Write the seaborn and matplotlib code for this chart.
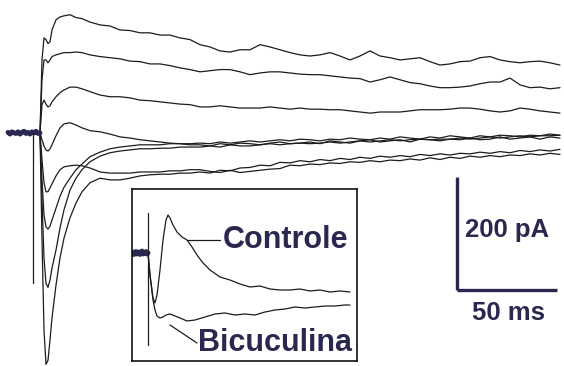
import numpy as np
import pandas as pd
import matplotlib
matplotlib.use("Agg")
import matplotlib.pyplot as plt
import seaborn as sns

sns.set_style("white")
plt.rcParams['font.family'] = ['Liberation Sans', 'DejaVu Sans']

# ---------------- data (main recording) ----------------
TIME_MS = [0, 1, 2, 3, 4, 5, 6, 8, 10, 12, 15, 18, 21, 25, 30, 35, 40, 45, 50, 55, 60, 65, 70, 75,
           80, 85, 90, 95, 100, 105, 110, 115, 120, 125, 130, 135, 140, 145, 150, 155, 160, 165,
           170, 175, 180, 185, 190, 195, 200, 205, 210, 215, 220, 225, 230, 235, 240, 245, 250, 255, 260]

trace_1 = [0, 129, 168, 165, 158, 161, 182, 200, 205, 207, 209, 204, 202, 196, 191, 189, 182, 181, 177, 177, 173, 173, 168, 165,
           156, 152, 145, 143, 147, 147, 156, 152, 147, 142, 138, 136, 138, 142, 136, 129, 136, 145, 136, 133, 129, 131, 133,
           126, 120, 122, 126, 127, 133, 135, 129, 126, 124, 126, 127, 124, 120]
trace_2 = [0, 94, 129, 129, 124, 129, 135, 138, 140, 142, 142, 143, 142, 138, 135, 133, 131, 127, 126, 122, 122, 119, 115, 112,
           108, 110, 112, 112, 108, 103, 106, 108, 108, 106, 104, 103, 103, 101, 99, 97, 96, 90, 94, 99, 94, 89, 87,
           83, 80, 80, 81, 83, 87, 90, 90, 97, 85, 80, 81, 78, 80]
trace_3 = [0, 50, 58, 51, 46, 48, 55, 64, 71, 76, 81, 81, 78, 73, 67, 64, 64, 62, 58, 57, 55, 53, 51, 50,
           46, 46, 48, 46, 44, 44, 44, 46, 44, 42, 44, 42, 42, 41, 41, 39, 37, 35, 37, 37, 37, 39, 41,
           41, 41, 42, 44, 44, 42, 39, 37, 39, 44, 42, 39, 37, 35]
trace_4 = [0, -12, -23, -30, -32, -28, -21, -5, 9, 16, 18, 14, 9, 4, 2, -2, -7, -9, -12, -14, -16, -18, -19, -21,
           -21, -23, -19, -21, -18, -19, -21, -18, -16, -19, -18, -16, -19, -14, -16, -18, -14, -12, -16, -14, -12, -16, -11,
           -12, -14, -11, -12, -9, -12, -11, -7, -11, -9, -7, -11, -7, -9]
trace_5 = [0, -48, -88, -104, -104, -97, -90, -76, -65, -60, -58, -57, -58, -62, -69, -71, -71, -71, -69, -69, -69, -67, -67, -65,
           -65, -68, -70, -66, -70, -68, -66, -64, -63, -57, -58, -55, -56, -53, -54, -51, -52, -49, -51, -48, -49, -46, -48,
           -44, -47, -43, -45, -41, -43, -40, -42, -39, -40, -37, -39, -36, -38]
trace_6 = [0, -83, -145, -166, -170, -165, -154, -133, -112, -96, -80, -65, -55, -42, -34, -28, -25, -23, -21, -21, -21, -19, -19, -19,
           -18, -19, -16, -18, -16, -14, -16, -14, -12, -14, -11, -12, -14, -11, -12, -9, -11, -12, -9, -11, -7, -9, -11,
           -7, -9, -5, -7, -9, -5, -7, -4, -5, -7, -4, -5, -2, -4]
trace_7 = [0, -119, -221, -266, -273, -260, -239, -207, -168, -136, -101, -80, -65, -51, -41, -35, -32, -30, -28, -28, -27, -27, -25, -25,
           -25, -23, -25, -21, -23, -23, -21, -19, -21, -19, -18, -19, -18, -16, -18, -16, -14, -16, -14, -12, -14, -12, -11,
           -12, -11, -11, -9, -11, -9, -7, -9, -7, -5, -7, -5, -5, -4]
trace_8 = [0, -189, -349, -409, -402, -366, -327, -269, -221, -186, -150, -124, -104, -88, -80, -83, -83, -80, -76, -74, -73, -73, -71, -71,
           -69, -71, -66, -67, -62, -61, -57, -58, -52, -53, -49, -51, -47, -49, -45, -47, -43, -45, -41, -43, -40, -42, -38,
           -40, -37, -39, -36, -37, -34, -36, -33, -35, -31, -33, -30, -32, -29]
TRACES = [trace_1, trace_2, trace_3, trace_4, trace_5, trace_6, trace_7, trace_8]

BASE_T = [-16, -15, -14, -13, -12, -11, -10, -9, -8, -7, -6, -5, -4, -3, -2, -1, 0]
BASE_I = [1, -2, 2, 0, -1, 2, -2, 1, 3, -1, 1, -2, 2, 0, 3, -1, 0]
ARTIFACT_T = [-3.5, -3.5]
ARTIFACT_I = [0, -265]

# scale bar (ms, pA)
SCALE_MS = 50
SCALE_PA = 200

# ---------------- data (inset) ----------------
ctrl_t = [0, 2, 5, 7, 9, 12, 15, 18, 20, 22, 25, 29, 34, 39, 44, 49, 55, 62, 72, 82, 92, 102, 112, 122, 132, 142, 152, 162, 172, 182, 192, 202]
ctrl_i = [0, -44, -90, -100, -84, -34, 26, 66, 76, 70, 56, 42, 32, 26, 12, -4, -20, -34, -48, -54, -62, -68, -66, -72, -74, -74, -72, -76, -74, -78, -76, -78]
bic_t = [0, 2, 5, 7, 9, 12, 15, 18, 22, 27, 32, 39, 47, 57, 67, 77, 87, 97, 107, 117, 127, 137, 147, 157, 167, 177, 187, 197, 202]
bic_i = [0, -44, -94, -114, -126, -130, -128, -124, -122, -126, -130, -136, -134, -128, -122, -120, -124, -122, -124, -118, -114, -112, -108, -110, -108, -106, -106, -104, -104]
INSET_BASE_T = [-15, -14, -13, -12, -11, -10, -9, -8, -7, -6, -5, -4, -3, -2, -1, 0]
INSET_BASE_I = [2, -3, 1, 3, -2, 0, 2, -3, 1, 4, -2, 1, -1, 3, -2, 0]
INSET_ART_T = [0, 0]
INSET_ART_I = [80, -184]

LINE = "#1c1c1c"
NAVY = "#2b2850"

fig = plt.figure(figsize=(5.64, 3.66), dpi=100)
ax = fig.add_axes([0, 0, 1, 1])
ax.set_xlim(-20, 262)
ax.set_ylim(-412, 235)
ax.axis("off")

for tr in TRACES:
    sns.lineplot(x=TIME_MS, y=tr, ax=ax, color=LINE, lw=0.9, estimator=None, sort=False)
sns.lineplot(x=BASE_T, y=BASE_I, ax=ax, color=NAVY, lw=3.5, estimator=None, sort=False)
sns.lineplot(x=ARTIFACT_T, y=ARTIFACT_I, ax=ax, color=LINE, lw=0.9, estimator=None, sort=False)

# scale bar
x0, y0 = 208.5, -278
ax.plot([x0, x0], [y0, y0 + SCALE_PA], color=NAVY, lw=2.4, solid_capstyle="butt")
ax.plot([x0, x0 + SCALE_MS], [y0, y0], color=NAVY, lw=2.4, solid_capstyle="butt")
ax.text(x0 + 4, y0 + SCALE_PA * 0.53, f"{SCALE_PA} pA", color=NAVY, fontsize=18.5,
        fontweight="bold", ha="left", va="center")
ax.text(x0 + SCALE_MS / 2 + 1, y0 - 41, f"{SCALE_MS} ms", color=NAVY, fontsize=18.5,
        fontweight="bold", ha="center", va="center")

# inset
ax2 = fig.add_axes([132 / 564, 1 - 361 / 366, 225 / 564, 172 / 366])
ax2.set_xlim(-16, 209)
ax2.set_ylim(-216, 128)
ax2.set_xticks([])
ax2.set_yticks([])
for s in ax2.spines.values():
    s.set_color("#111111")
    s.set_linewidth(1.2)
sns.lineplot(x=ctrl_t, y=ctrl_i, ax=ax2, color=LINE, lw=0.9, estimator=None, sort=False)
sns.lineplot(x=bic_t, y=bic_i, ax=ax2, color=LINE, lw=0.9, estimator=None, sort=False)
sns.lineplot(x=INSET_BASE_T, y=INSET_BASE_I, ax=ax2, color=NAVY, lw=3.5, estimator=None, sort=False)
sns.lineplot(x=INSET_ART_T, y=INSET_ART_I, ax=ax2, color=LINE, lw=0.9, estimator=None, sort=False)
ax2.plot([39, 72], [26, 26], color=LINE, lw=0.9)
ax2.plot([22, 49], [-144, -180], color=LINE, lw=0.9)
ax2.text(75, 26, "Controle", color=NAVY, fontsize=22, fontweight="bold", ha="left", va="center")
ax2.text(50, -180, "Bicuculina", color=NAVY, fontsize=22, fontweight="bold", ha="left", va="center")

fig.savefig("out.png", dpi=100, facecolor="white")
